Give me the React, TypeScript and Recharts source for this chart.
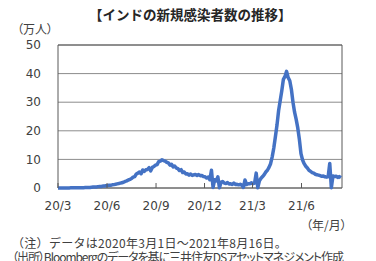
import { LineChart, Line, XAxis, YAxis, CartesianGrid, ReferenceArea } from 'recharts'

// days counted from 2020/3/1, one sample every 3 days, values in 万人
const SAMPLE_STEP = 3
const LAST_DAY = 533 // 2021/8/16

const cases = [
  // 2020/3
  0, 0, 0, 0.01, 0.01, 0.02, 0.02, 0.03, 0.05, 0.07, 0.1,
  // 4
  0.05, 0.07, 0.09, 0.1, 0.1, 0.12, 0.15, 0.16, 0.17, 0.19,
  // 5
  0.26, 0.33, 0.36, 0.37, 0.48, 0.51, 0.55, 0.66, 0.71, 0.8,
  // 6
  0.84, 0.93, 0.98, 1.1, 1.18, 1.3, 1.45, 1.56, 1.7, 1.85,
  // 7
  2.0, 2.3, 2.5, 2.8, 3.0, 3.3, 3.8, 4.0, 4.9, 5.2, 5.6,
  // 8
  5.0, 6.3, 5.8, 6.4, 6.5, 7.1, 6.0, 7.2, 7.5, 8.0,
  // 9
  8.2, 9.2, 9.4, 9.9, 9.6, 9.4, 9.0, 8.8, 8.0, 8.3,
  // 10
  7.4, 7.7, 7.0, 6.8, 6.1, 6.4, 5.4, 5.6, 4.9, 5.0,
  // 11
  4.5, 4.9, 4.4, 4.6, 4.7, 4.4, 4.7, 4.3, 4.4, 4.0,
  // 12
  3.9, 3.5, 3.8, 2.9, 6.2, 0.2, 2.9, 2.5, 3.9, 0.1,
  // 2021/1
  2.0, 2.3, 1.7, 1.6, 1.9, 1.4, 1.5, 1.2, 1.7, 1.2, 1.3,
  // 2
  1.1, 1.3, 1.0, 0.2, 2.8, 1.2, 1.5, 1.5, 1.8,
  // 3
  1.5, 1.7, 5.2, 0.1, 2.5, 3.4, 4.0, 4.7, 5.6, 6.2,
  // 4
  7.2, 8.5, 10.9, 14.0, 17.9, 22.0, 27.0, 30.5, 34.0, 38.0,
  // 5
  39.0, 40.8, 38.6, 37.5, 34.5, 30.0, 26.5, 24.0, 21.0, 17.0,
  // 6
  12.0, 9.8, 8.5, 7.6, 7.0, 6.2, 5.8, 5.4, 5.2, 4.8,
  // 7
  4.6, 4.5, 4.3, 4.1, 4.2, 3.9, 3.8, 3.9, 8.6, 0.1, 4.2,
  // 8
  4.0, 4.1, 3.7, 4.0, 3.6,
]

const tickDays = [0, 92, 184, 275, 365, 457]
const tickLabels = ['20/3', '20/6', '20/9', '20/12', '21/3', '21/6']
const yTicks = [0, 10, 20, 30, 40, 50]

const data = cases.map((v, i) => ({ day: i * SAMPLE_STEP, v }))

const TICK_MARGIN = 13

const jp = '"Noto Sans CJK JP", sans-serif'
const textColor = '#404040'

function XTick(props: any) {
  const { x, y, payload } = props
  const idx = tickDays.indexOf(payload.value)
  return (
    <g>
      <line x1={x} x2={x} y1={y - TICK_MARGIN} y2={y - TICK_MARGIN - 5} stroke="#595959" />
      <text x={x} y={y} dy="0.71em" textAnchor="middle" fill={textColor}
        fontSize={12} fontFamily='"DejaVu Sans", sans-serif'>
        {idx >= 0 ? tickLabels[idx] : ''}
      </text>
    </g>
  )
}

const noteStyle = {
  position: 'absolute' as const,
  left: 12,
  fontFamily: jp,
  fontSize: 12,
  lineHeight: '14px',
  color: textColor,
  whiteSpace: 'nowrap' as const,
}

export default function App() {
  return (
    <div style={{ position: 'absolute', left: 0, top: 0, width: 376, height: 261, overflow: 'hidden', background: '#fff' }}>
      <div style={{ position: 'absolute', left: 89, top: 4, fontFamily: jp, fontWeight: 700, fontSize: 13.5, color: '#262626', whiteSpace: 'nowrap' }}>
        【インドの新規感染者数の推移】
      </div>
      <div style={{ position: 'absolute', left: 17, top: 20, fontFamily: jp, fontSize: 12, color: textColor, whiteSpace: 'nowrap', fontFeatureSettings: '"palt"' }}>
        （万人）
      </div>
      <div style={{ position: 'absolute', left: 0, top: 0 }}>
        <LineChart width={376} height={261} data={data} margin={{ top: 45, right: 34, bottom: 0, left: 0 }}>
          <CartesianGrid horizontal vertical={false} stroke="#8c8c8c" />
          <XAxis dataKey="day" type="number" domain={[0, LAST_DAY]} ticks={tickDays}
            height={261 - 45 - 143} axisLine={false} tickLine={false} tickSize={0}
            tickMargin={TICK_MARGIN} tick={<XTick />} interval={0} />
          <YAxis domain={[0, 50]} ticks={yTicks} width={58} axisLine={false} tickLine={false}
            tickSize={0} tickMargin={17}
            tick={{ fill: textColor, fontSize: 12, fontFamily: '"DejaVu Sans", sans-serif' }} />
          <ReferenceArea x1={0} x2={LAST_DAY} y1={0} y2={50} fill="none" stroke="#595959" strokeWidth={1} />
          <Line type="linear" dataKey="v" stroke="#4472C4" strokeWidth={3.5} dot={false}
            strokeLinejoin="round" isAnimationActive={false} />
        </LineChart>
      </div>
      <div style={{ position: 'absolute', left: 306, top: 216, fontFamily: jp, fontSize: 12, color: textColor, whiteSpace: 'nowrap', fontFeatureSettings: '"palt"' }}>
        （年/月）
      </div>
      <div style={{ ...noteStyle, top: 236, letterSpacing: 0.3 }}>
        （注）データは2020年3月1日～2021年8月16日。
      </div>
      <div style={{ ...noteStyle, top: 250, letterSpacing: -1.05, fontFeatureSettings: '"palt"' }}>
        （出所）Bloombergのデータを基に三井住友DSアセットマネジメント作成
      </div>
    </div>
  )
}
